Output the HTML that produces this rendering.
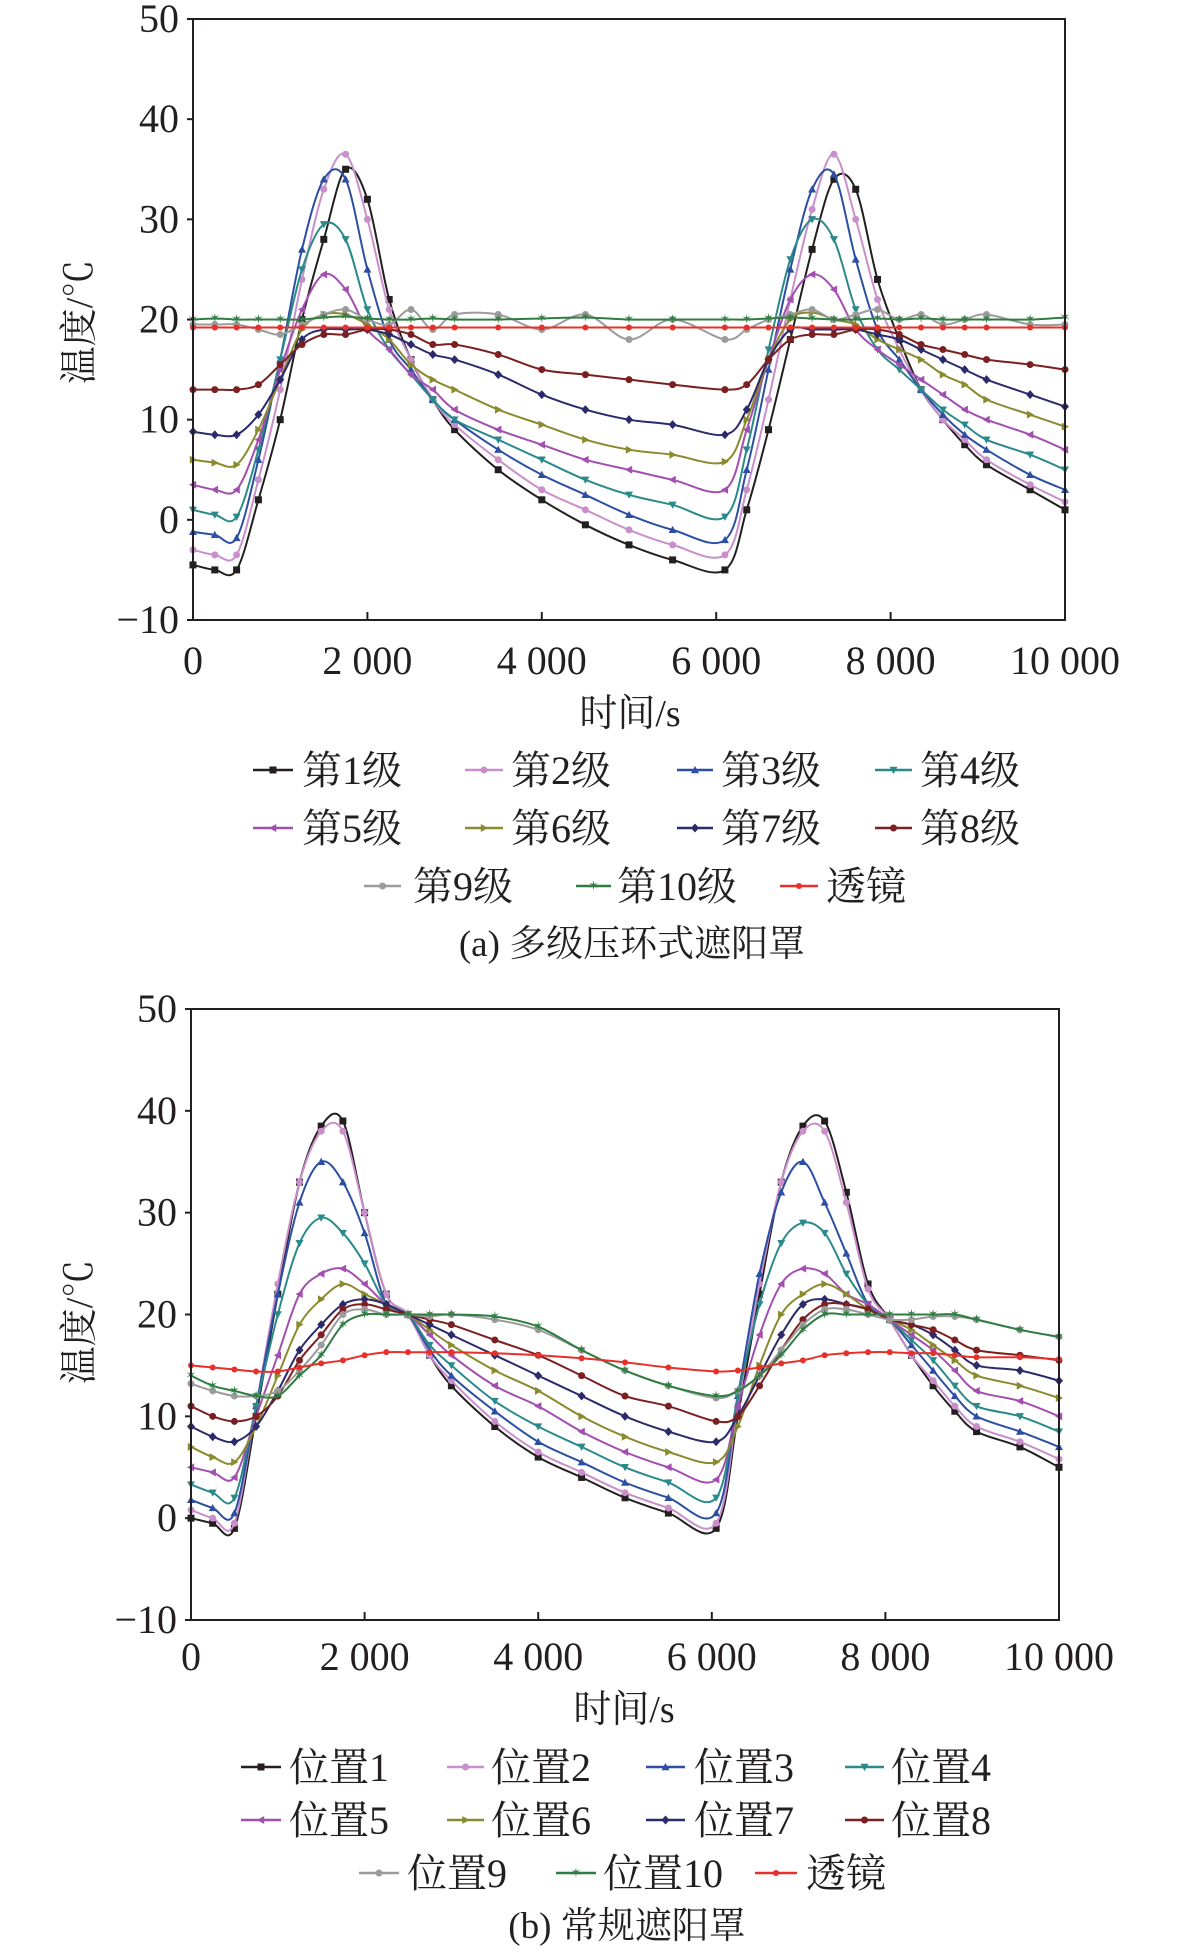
<!DOCTYPE html>
<html><head><meta charset="utf-8">
<style>
html,body{margin:0;padding:0;background:#fff;}
svg text{font-family:"Liberation Serif","Noto Serif CJK SC","Noto Sans CJK SC",serif;fill:#231f20;}
</style></head>
<body>
<svg id="fig" width="1181" height="1947" viewBox="0 0 1181 1947" xmlns="http://www.w3.org/2000/svg"></svg>
<script>
// ---------- Chart (a) data ----------
const timesA = [0,250,500,750,1000,1250,1500,1750,2000,2250,2500,2750,3000,3500,4000,4500,5000,5500,6100,6350,6600,6850,7100,7350,7600,7850,8100,8350,8600,8850,9100,9600,10000];
const namesA = ["第1级","第2级","第3级","第4级","第5级","第6级","第7级","第8级","第9级","第10级","透镜"];
const a1 = [-4.5,-5,-5,2,10,20,28,35,32,22,16,12,9,5,2,-0.5,-2.5,-4,-5,1,9,18,27,34,33,24,18,13,10,7.5,5.5,3,1];
const a2 = [-3,-3.5,-3.5,4,13,24,33,36.5,30,21,16,12,9.5,6,3,1,-1,-2.5,-3.5,3,12,22,31,36.5,30,22,17,13,10,8,6,3.5,1.8];
const a3 = [-1.2,-1.5,-1.8,6,16,27,34,34,25,18,15,12,10,7,4.5,2.5,0.5,-1,-2,5,15,25,33,34.5,26,19,16,13,10.5,8.5,7,4.5,3];
const a4 = [1,0.5,0.3,7,16,25,29.5,28,21,17,14.5,12,10,8,6,4,2.5,1.5,0.3,7,17,26,30,28,21,17,15,13,11,9.5,8,6.5,5];
const a5 = [3.5,3,3,8,15,21,24.5,23,19,17,14.5,13,11,9,7.5,6,5,4,3,9,16,22,24.5,23,19,17,15.5,14,12.5,11,10,8.5,7];
const a6 = [6,5.7,5.5,9,14,19,20.5,20.5,19.5,18,15.5,14,13,11,9.5,8,7,6.5,5.8,10,16,20,20.7,20,19.5,18,17,16,14.5,13.5,12,10.5,9.3];
const a7 = [8.8,8.5,8.5,10.5,14,18,19,19,19,18.5,17.5,16.5,16,14.5,12.5,11,10,9.5,8.5,11,16,19,19,19,19,18.5,18,17,16,15,14,12.5,11.3];
const a8 = [13,13,13,13.5,15.5,17.5,18.5,18.5,19,19,18.5,17.5,17.5,16.5,15,14.5,14,13.5,13,13.5,16,18,18.5,18.5,19,19,18.5,17.5,17,16.5,16,15.5,15];
const a9 = [19.5,19.5,19.5,19,18.5,19.5,20.5,21,20,19.5,21,19,20.5,20.5,19,20.5,18,20,18,19,20,20.5,21,20,20.5,21,20,20.5,19.5,20,20.5,19.5,19.5];
const a10 = [20,20.1,20,20,20,20,20.2,20.3,20.1,20,20,20.1,20,20,20.1,20.2,20,20,20,20,20.1,20.2,20.1,20,20,20.1,20,20.1,20,20,20,20,20.2];
const aLens = [19.2,19.2,19.2,19.2,19.2,19.2,19.2,19.2,19.2,19.2,19.2,19.2,19.2,19.2,19.2,19.2,19.2,19.2,19.2,19.2,19.2,19.2,19.2,19.2,19.2,19.2,19.2,19.2,19.2,19.2,19.2,19.2,19.2];

// ---------- Chart (b) data ----------
const timesB = [0,250,500,750,1000,1250,1500,1750,2000,2250,2500,2750,3000,3500,4000,4500,5000,5500,6050,6300,6550,6800,7050,7300,7550,7800,8050,8300,8550,8800,9050,9550,10000];
const namesB = ["位置1","位置2","位置3","位置4","位置5","位置6","位置7","位置8","位置9","位置10","透镜"];
const b1 = [0,-0.5,-1,10,22,33,38.5,39,30,22,20,16,13,9,6,4,2,0.5,-1,10,22,33,38.5,39,32,23,19.5,16,13,10.5,8.5,7,5];
const b2 = [0.8,0,-0.5,11,23,33,38,38,30,22,20,16,13.5,9.5,6.5,4.5,2.5,1,-0.5,11,23,33,38,38,31,22.5,19.5,16,13.5,11,9,7.5,5.8];
const b3 = [1.8,1,0.5,11,22,31,35,33,28,21,20,16.5,14,10.5,7.5,5.5,3.5,2,0.5,12,24,32,35,31,26,21,19.5,17,14.5,12,10,8.5,7];
const b4 = [3.3,2.5,2,11,20,27,29.5,28,25,21,20,17,15,11.5,9,7,5,3.5,2,12,21,27,29,28,24,21,19.5,17.5,15.5,13,11,10,8.5];
const b5 = [5,4.5,4,10,16,22,24,24.5,23,21,20,18,16,13,11,8.5,6.5,5,3.8,11,18,23,24.5,24,22,21,19.5,18,16.5,14.5,12.5,11.5,10];
const b6 = [7,6,5.5,9,14,19,21.5,23,22,21,20,18.5,17,14.5,12.5,10,8,6.5,5.5,9,15,20,22,23,22,20.5,19.5,18.5,17,15.5,14,13,11.8];
const b7 = [9,8,7.5,9,12.5,16.5,19,21,21.5,21,20,19,18,16,14,12,10,8.5,7.5,10,14,18,21,21.5,21,20.5,19.5,19,18,16.5,15,14.5,13.5];
const b8 = [11,10,9.5,10,12,15.5,18,20.5,21,20.5,20,19.5,19,17.5,16,14,12,11,9.5,10,13,16.5,19.5,21,21,20.5,19.5,19,18.5,17.5,16.5,16,15.5];
const b9 = [13.2,12.5,12,12,12.5,14.5,17,20,20.5,20,20,19.8,20,19.5,18.5,16.5,14.5,13,11.8,12.5,14,16.5,19,20.5,20.5,20,19.5,19.5,19.8,19.8,19.5,18.5,17.8];
const b10 = [14,13,12.5,12,12,14,16,19,20,20,20,20,20,19.8,18.8,16.5,14.5,13,12,12.5,14,16,18.5,20,20,20,20,20,20,20,19.5,18.5,17.8];
const bLens = [15,14.8,14.6,14.4,14.4,14.8,15.2,15.5,16,16.3,16.3,16.3,16.3,16.2,16,15.7,15.3,14.8,14.4,14.5,14.8,15.2,15.5,16,16.2,16.3,16.3,16.2,16.2,16,15.8,15.8,15.6];

const xTicks = [0,2000,4000,6000,8000,10000];
const xTickLabels = ["0","2 000","4 000","6 000","8 000","10 000"];
const yTicks = [-10,0,10,20,30,40,50];
const yTickLabels = ["−10","0","10","20","30","40","50"];

const colors = ["#231f20","#c98fcb","#2c4fa3","#2a8a8a","#a24fb0","#8a8a2e","#2b2b6b","#7b1f20","#9b9b9b","#2f7d40","#e8302a"];
const markers = ["square","circle","tri-up","tri-down","tri-left","tri-right","diamond","circle","circle","star","circle"];

const NS = "http://www.w3.org/2000/svg";
const svg = document.getElementById("fig");
function mk(tag, attrs, parent){const e=document.createElementNS(NS,tag);for(const k in attrs)e.setAttribute(k,attrs[k]);(parent||svg).appendChild(e);return e;}

function smoothPath(pts){
  let d="M"+pts[0][0].toFixed(1)+","+pts[0][1].toFixed(1);
  for(let i=0;i<pts.length-1;i++){
    const p0=pts[Math.max(i-1,0)],p1=pts[i],p2=pts[i+1],p3=pts[Math.min(i+2,pts.length-1)];
    const c1=[p1[0]+(p2[0]-p0[0])/6,p1[1]+(p2[1]-p0[1])/6];
    const c2=[p2[0]-(p3[0]-p1[0])/6,p2[1]-(p3[1]-p1[1])/6];
    d+="C"+c1[0].toFixed(1)+","+c1[1].toFixed(1)+" "+c2[0].toFixed(1)+","+c2[1].toFixed(1)+" "+p2[0].toFixed(1)+","+p2[1].toFixed(1);
  }
  return d;
}
function marker(g,type,x,y,c,s){
  s=s||4.2;
  let e;
  if(type==="square") e=mk("rect",{x:x-s+0.5,y:y-s+0.5,width:2*s-1,height:2*s-1,fill:c},g);
  else if(type==="circle") e=mk("circle",{cx:x,cy:y,r:s-0.5,fill:c},g);
  else if(type==="diamond") e=mk("polygon",{points:`${x},${y-s-0.5} ${x+s},${y} ${x},${y+s+0.5} ${x-s},${y}`,fill:c},g);
  else if(type==="star") e=mk("text",{x:x,y:y+4,"text-anchor":"middle","font-size":13,style:"fill:"+c},g), e.textContent="✶";
  else {
    let p;
    if(type==="tri-up") p=`${x},${y-s} ${x+s},${y+s*0.8} ${x-s},${y+s*0.8}`;
    if(type==="tri-down") p=`${x},${y+s} ${x+s},${y-s*0.8} ${x-s},${y-s*0.8}`;
    if(type==="tri-left") p=`${x-s},${y} ${x+s*0.8},${y-s} ${x+s*0.8},${y+s}`;
    if(type==="tri-right") p=`${x+s},${y} ${x-s*0.8},${y-s} ${x-s*0.8},${y+s}`;
    e=mk("polygon",{points:p,fill:c},g);
  }
  return e;
}

function drawChart(cfg){
  const {L,R,T,B,times,series,names,tag} = cfg;
  const xs=v=>L+(v-0)/(10000)*(R-L);
  const ys=v=>B-(v+10)/60*(B-T);
  const g=mk("g",{});
  
  
  series.forEach((vals,si)=>{
    const sg=mk("g",{},g);
    
    
    const pts=times.map((t,i)=>[xs(t),ys(vals[i])]);
    mk("path",{d:smoothPath(pts),fill:"none",stroke:colors[si],"stroke-width":2},sg);
    pts.forEach(p=>marker(sg,markers[si],p[0],p[1],colors[si],si===10?3.5:4));
  });
  const fr=mk("rect",{x:L,y:T,width:R-L,height:B-T,fill:"none",stroke:"#231f20","stroke-width":2},g);
  
  
  xTicks.forEach((t,i)=>{
    mk("line",{x1:xs(t),x2:xs(t),y1:B,y2:B-8,stroke:"#231f20","stroke-width":2},g);
    const tx=mk("text",{x:xs(t),y:B+cfg.xlo,"text-anchor":"middle","font-size":40},g);
    tx.textContent=xTickLabels[i];
    
    
  });
  yTicks.forEach((t,i)=>{
    mk("line",{x1:L,x2:L-6,y1:ys(t),y2:ys(t),stroke:"#231f20","stroke-width":2},g);
    const tx=mk("text",{x:L-14,y:ys(t)+13,"text-anchor":"end","font-size":40},g);
    tx.textContent=yTickLabels[i];
    
    
  });
  const xt=mk("text",{x:cfg.xtx,y:cfg.xty,"text-anchor":"middle","font-size":38},g);
  xt.textContent="时间/s";
  
  
  const yt=mk("text",{x:0,y:0,"text-anchor":"middle","font-size":38,transform:`translate(${cfg.ytx},${cfg.yty}) rotate(-90)`},g);
  yt.textContent="温度/℃";
  
  
  cfg.legend.forEach((it,si)=>{
    const lg=mk("g",{},g);
    
    
    mk("line",{x1:it[0],x2:it[1],y1:it[3],y2:it[3],stroke:colors[si],"stroke-width":2.5},lg);
    marker(lg,markers[si],(it[0]+it[1])/2,it[3],colors[si],si===10?3.5:4);
    const tx=mk("text",{x:it[2],y:it[3]+14,"font-size":40},lg);
    tx.textContent=names[si];
  });
  const cap=mk("text",{x:cfg.capx,y:cfg.capy,"text-anchor":"middle","font-size":37},g);
  cap.textContent=cfg.caption;
  
  
}

drawChart({L:193,R:1065,T:19,B:620,times:timesA,series:[a1,a2,a3,a4,a5,a6,a7,a8,a9,a10,aLens],names:namesA,tag:"a",xlo:54,
  xtx:630,xty:726,ytx:92,yty:322,capx:632,capy:956,caption:"(a) 多级压环式遮阳罩",
  legend:[[253,293,302,770],[465,503,511,770],[677,713,721,770],[875,912,920,770],
          [253,293,302,828],[465,503,511,828],[677,713,721,828],[875,912,920,828],
          [364,401,413,886],[576,611,617,886],[780,818,826,886]]});
drawChart({L:191,R:1059,T:1009,B:1620,times:timesB,series:[b1,b2,b3,b4,b5,b6,b7,b8,b9,b10,bLens],names:namesB,tag:"b",xlo:50,
  xtx:624,xty:1722,ytx:92,yty:1322,capx:627,capy:1938,caption:"(b) 常规遮阳罩",
  legend:[[241,281,289,1767],[447,484,491,1767],[646,685,694,1767],[845,884,891,1767],
          [241,281,289,1820],[447,484,491,1820],[646,685,694,1820],[845,884,891,1820],
          [359,399,407,1873],[556,596,603,1873],[755,797,806,1873]]});
</script>
</body></html>
